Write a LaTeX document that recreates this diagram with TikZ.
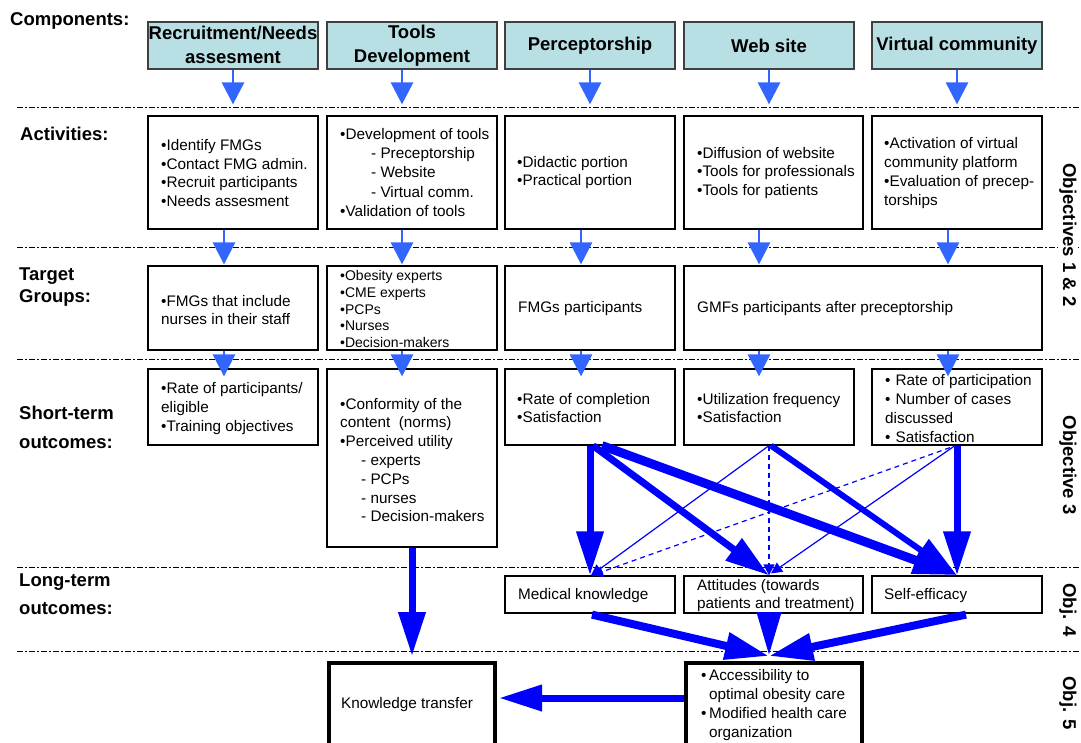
\documentclass[tikz,border=0pt]{standalone}
\usepackage{fontspec}
\setmainfont{Liberation Sans}
\usetikzlibrary{arrows.meta,calc}
\definecolor{lblue}{RGB}{51,102,255}
\definecolor{dblue}{RGB}{0,0,255}
\definecolor{compfill}{RGB}{184,223,227}
\begin{document}
\begin{tikzpicture}[x=1pt,y=-1pt,
  sep/.style={draw=black, line width=0.9pt, dash pattern=on 5.5pt off 2.5pt on 1.5pt off 2.5pt},
  lab/.style={inner sep=0pt, anchor=west, align=left, font=\fontsize{18.5}{22}\selectfont\bfseries},
  rlab/.style={inner sep=1.5pt, fill=white, rotate=-90, font=\fontsize{18.5}{22}\selectfont\bfseries},
  comp/.style={draw=black!75, line width=1.2pt, fill=compfill, minimum height=47pt, minimum width=170pt, inner sep=0pt, align=center, font=\fontsize{18.5}{24}\selectfont\bfseries},
  box/.style={draw=black, line width=1.2pt, inner sep=0pt},
  heavybox/.style={draw=black, line width=4pt, inner sep=0pt},
  txt/.style={inner sep=0pt, anchor=west, align=left, font=\fontsize{15.3}{18.7}\selectfont},
  lbarrow/.style={draw=lblue, line width=2.8pt, -{Triangle[width=22pt,length=22pt]}},
  bigarrow/.style={draw=dblue, line width=7pt, -{Triangle[width=26pt,length=44pt]}},
  thinarrow/.style={draw=dblue, line width=1.2pt, -{Triangle[width=11pt,length=11pt]}},
  dasharrow/.style={thinarrow, dash pattern=on 5pt off 4pt}
]
\clip (0,0) rectangle (1081,742);
\fill[white] (0,0) rectangle (1081,742);

% separators
\foreach \yy in {107,247,359,567,651} \draw[sep] (17,\yy) -- (1081,\yy);

% left labels
\node[lab] (Lcomp) at (10,21) {Components:};
\node[lab] (Lact) at (20,134) {Activities:};
\node[lab] (Ltg) at (19,287) {Target\\Groups:};
\node[lab, font=\fontsize{18.5}{29}\selectfont\bfseries] (Lst) at (19,427) {Short-term\\outcomes:};
\node[lab, font=\fontsize{18.5}{28}\selectfont\bfseries] (Llt) at (19,594) {Long-term\\outcomes:};

% components
\node[comp] (c1) at (233,45.5) {Recruitment/Needs\\assesment\rule[-2pt]{0pt}{2pt}};
\node[comp] (c2) at (412,45.5) {Tools\\Development\rule[-2pt]{0pt}{2pt}};
\node[comp] (c3) at (590,45.5) {Perceptorship};
\node[comp] (c4) at (769,45.5) {Web site};
\node[comp] (c5) at (957,45.5) {Virtual community};

% activities
\node[box, minimum width=170pt, minimum height=113pt] (a1) at (233,172.5) {};
\node[box, minimum width=170pt, minimum height=113pt] (a2) at (412,172.5) {};
\node[box, minimum width=170pt, minimum height=113pt] (a3) at (590,172.5) {};
\node[box, minimum width=179pt, minimum height=113pt] (a4) at (773.5,172.5) {};
\node[box, minimum width=170pt, minimum height=113pt] (a5) at (957,172.5) {};
\node[txt] (a1t) at (161,173) {•Identify FMGs\\•Contact FMG admin.\\•Recruit participants\\•Needs assesment};
\node[txt, font=\fontsize{15.3}{19.25}\selectfont] (a2t) at (340,172.5) {•Development of tools\\\hspace{31pt}- Preceptorship\\\hspace{31pt}- Website\\\hspace{31pt}- Virtual comm.\\•Validation of tools};
\node[txt] (a3t) at (517,172.5) {•Didactic portion\\•Practical portion};
\node[txt] (a4t) at (697,173) {•Diffusion of website\\•Tools for professionals\\•Tools for patients};
\node[txt] (a5t) at (884,173) {•Activation of virtual\\community platform\\•Evaluation of precep-\\torships};

% target groups
\node[box, minimum width=170pt, minimum height=84pt] (t1) at (233,308) {};
\node[box, minimum width=170pt, minimum height=84pt] (t2) at (412,308) {};
\node[box, minimum width=170pt, minimum height=84pt] (t3) at (590,308) {};
\node[box, minimum width=358pt, minimum height=84pt] (t4) at (863,308) {};
\node[txt] (t1t) at (161,310) {•FMGs that include\\nurses in their staff};
\node[txt, font=\fontsize{14}{16.75}\selectfont] (t2t) at (340,309) {•Obesity experts\\•CME experts\\•PCPs\\•Nurses\\•Decision-makers};
\node[txt] (t3t) at (518,309) {FMGs participants};
\node[txt] (t4t) at (697,309) {GMFs participants after preceptorship};

% short-term outcomes
\node[box, minimum width=170pt, minimum height=76pt] (s1) at (233,407) {};
\node[box, minimum width=170pt, minimum height=178pt] (s2) at (412,458) {};
\node[box, minimum width=170pt, minimum height=76pt] (s3) at (590,407) {};
\node[box, minimum width=170pt, minimum height=76pt] (s4) at (769,407) {};
\node[box, minimum width=170pt, minimum height=76pt] (s5) at (957,407) {};
\node[txt] (s1t) at (161,408.5) {•Rate of participants/\\eligible\\•Training objectives};
\node[txt, font=\fontsize{15.3}{18.8}\selectfont] (s2t) at (340,460) {•Conformity of the\\content~~(norms)\\•Perceived utility\\\hspace{21pt}- experts\\\hspace{21pt}- PCPs\\\hspace{21pt}- nurses\\\hspace{21pt}- Decision-makers};
\node[txt] (s3t) at (517,408) {•Rate of completion\\•Satisfaction};
\node[txt] (s4t) at (697,408) {•Utilization frequency\\•Satisfaction};
\node[txt] (s5t) at (885,408.5) {•\hspace{5pt}Rate of participation\\•\hspace{5pt}Number of cases\\discussed\\•\hspace{5pt}Satisfaction};

% long-term outcomes
\node[box, minimum width=170pt, minimum height=37pt] (l1) at (590,594.5) {};
\node[box, minimum width=179pt, minimum height=37pt] (l2) at (773.5,594.5) {};
\node[box, minimum width=170pt, minimum height=37pt] (l3) at (957,594.5) {};
\node[txt] (l1t) at (518,596) {Medical knowledge};
\node[txt, font=\fontsize{15.3}{18}\selectfont] (l2t) at (697,595.5) {Attitudes (towards\\patients and treatment)};
\node[txt] (l3t) at (884,596) {Self-efficacy};

% objective 5
\node[heavybox, minimum width=166pt, minimum height=120pt] (kt) at (412,722.5) {};
\node[heavybox, minimum width=176.5pt, minimum height=120pt] (acc) at (773.75,722.5) {};
\node[txt] (ktt) at (341,705) {Knowledge transfer};
\node[txt] (acct) at (701,705) {•\hspace{2.5pt}Accessibility to\\\phantom{•}\hspace{2.5pt}optimal obesity care\\•\hspace{2.5pt}Modified health care\\\phantom{•}\hspace{2.5pt}organization};

% light blue arrows: components -> activities
\draw[lbarrow] (c1.south) -- ($(a1.north)+(0,-11)$);
\draw[lbarrow] ($(c2.south)+(-10,0)$) -- ($(a2.north)+(-10,-11)$);
\draw[lbarrow] (c3.south) -- ($(a3.north)+(0,-11)$);
\draw[lbarrow] (c4.south) -- ($(a4.north)+(-4.5,-11)$);
\draw[lbarrow] (c5.south) -- ($(a5.north)+(0,-11)$);
% activities -> target groups
\draw[lbarrow] ($(a1.south)+(-9,0)$) -- ($(t1.north)+(-9,-1)$);
\draw[lbarrow] ($(a2.south)+(-10,0)$) -- ($(t2.north)+(-10,-1)$);
\draw[lbarrow] ($(a3.south)+(-9,0)$) -- ($(t3.north)+(-9,-1)$);
\draw[lbarrow] ($(a4.south)+(-14.5,0)$) -- ($(t4.north)+(-104,-1)$);
\draw[lbarrow] ($(a5.south)+(-9,0)$) -- ($(t4.north)+(85,-1)$);
% target groups -> short-term
\draw[lbarrow] ($(t1.south)+(-9,0)$) -- ($(s1.north)+(-9,8)$);
\draw[lbarrow] ($(t2.south)+(-10,0)$) -- ($(s2.north)+(-10,8)$);
\draw[lbarrow] ($(t3.south)+(-9,0)$) -- ($(s3.north)+(-9,8)$);
\draw[lbarrow] ($(t4.south)+(-104,0)$) -- ($(s4.north)+(-10,8)$);
\draw[lbarrow] ($(t4.south)+(85,0)$) -- ($(s5.north)+(-9,8)$);

% short-term -> long-term (thick)
\draw[bigarrow] (s3.south) -- (l1.north);
\draw[bigarrow] ($(s3.south)+(3,0)$) -- ($(l2.north)+(-4.5,0)$);
\draw[bigarrow, line width=9pt] ($(s3.south)+(12,0)$) -- (l3.north);
\draw[bigarrow, line width=6pt] ($(s4.south)+(2,0)$) -- (l3.north);
\draw[bigarrow] (s5.south) -- (l3.north);
% thin and dashed
\draw[thinarrow] (s4.south) -- ($(l1.north)+(1,0)$);
\draw[dasharrow] ($(s5.south)+(-7,2)$) -- ($(l1.north)+(2,0)$);
\draw[dasharrow] (s4.south) -- ($(l2.north)+(-4.5,0)$);
\draw[thinarrow] ($(s5.south)+(-2,0)$) -- ($(l2.north)+(-2.5,-2)$);

% long-term -> objective 5
\draw[bigarrow, line width=8pt] ($(l1.south)+(2,1)$) -- ($(acc.north)+(-4.75,-4.5)$);
\draw[bigarrow, -{Triangle[width=23pt,length=44pt]}] ($(l2.south)+(-4.5,0)$) -- ($(acc.north)+(-4.75,-4.5)$);
\draw[bigarrow, line width=8pt] ($(l3.south)+(9,1)$) -- ($(acc.north)+(-4.75,-4.5)$);
\draw[bigarrow] (s2.south) -- ($(kt.north)+(0,-4.5)$);
\draw[bigarrow, -{Triangle[width=25pt,length=43pt]}] ($(acc.west)+(0,-24.5)$) -- ($(kt.east)+(2,-24.5)$);

% right labels
\node[rlab] (o12) at (1068,235) {Objectives 1 \& 2};
\node[rlab] (o3) at (1068,465) {Objective 3};
\node[rlab] (o4) at (1068,610) {Obj. 4};
\node[rlab] (o5) at (1068,703) {Obj. 5};
\end{tikzpicture}
\end{document}
